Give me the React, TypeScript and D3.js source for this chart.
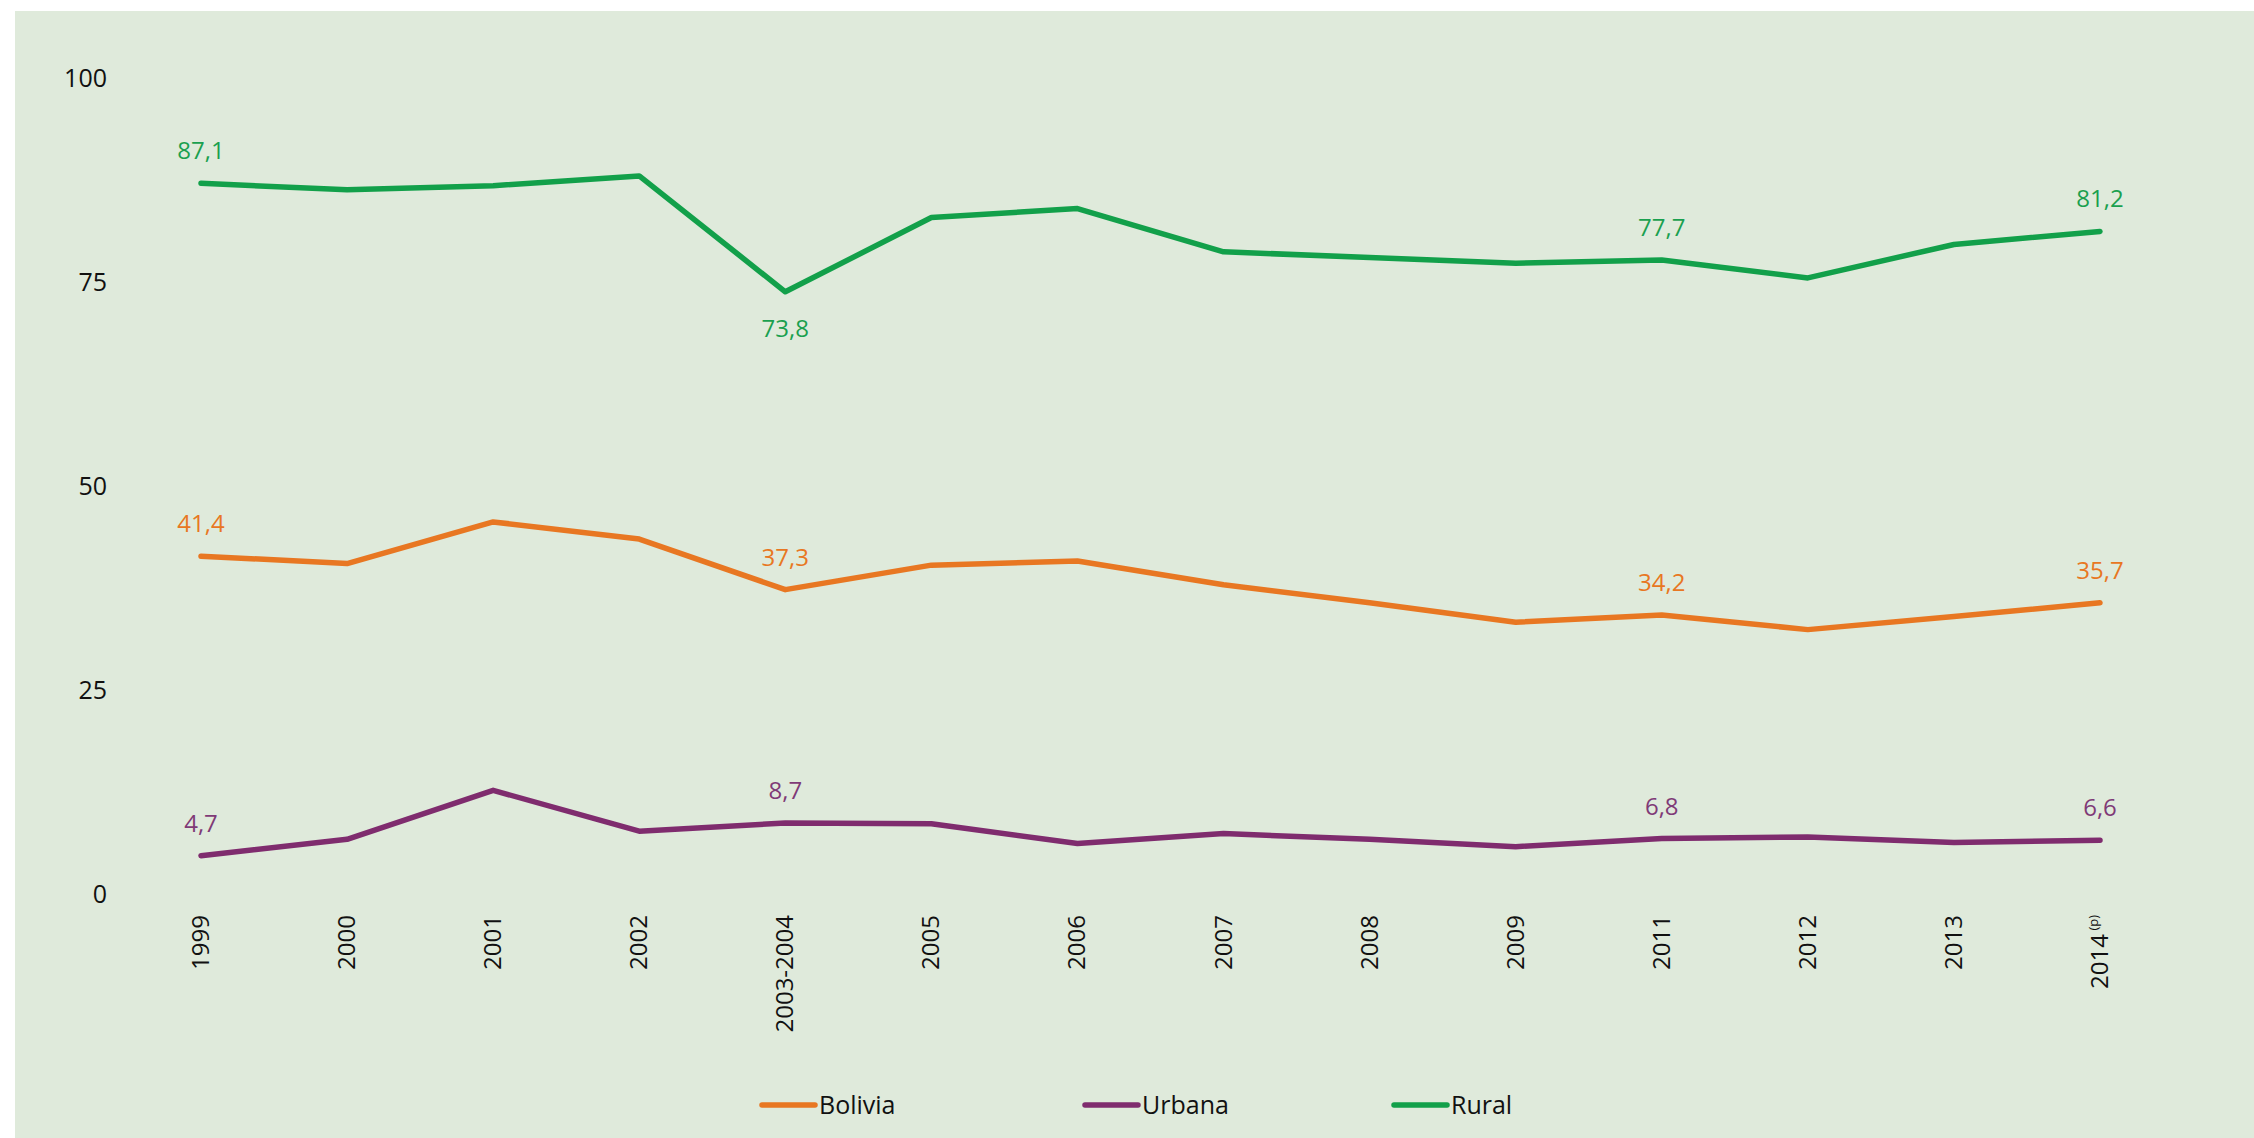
import * as d3 from "d3";

const years = ["1999", "2000", "2001", "2002", "2003-2004", "2005", "2006", "2007", "2008", "2009", "2011", "2012", "2013", "2014"];
const bolivia = [41.4, 40.5, 45.6, 43.5, 37.3, 40.3, 40.8, 37.9, 35.7, 33.3, 34.2, 32.4, 34.0, 35.7];
const urbana = [4.7, 6.7, 12.7, 7.7, 8.7, 8.6, 6.2, 7.4, 6.7, 5.8, 6.8, 7.0, 6.3, 6.6];
const rural = [87.1, 86.3, 86.8, 88.0, 73.8, 82.9, 84.0, 78.7, 78.0, 77.3, 77.7, 75.5, 79.6, 81.2];
const yTicks = [0, 25, 50, 75, 100];
// which points carry a value label, and whether it sits below the line
const labelled = ["1999", "2003-2004", "2011", "2014"];
const below = { Rural: ["2003-2004"] } as Record<string, string[]>;

const series = [
  { name: "Bolivia", values: bolivia, color: "#e87722", text: "#e87722" },
  { name: "Urbana", values: urbana, color: "#7f2c6e", text: "#7f3a77" },
  { name: "Rural", values: rural, color: "#12a04a", text: "#1aa04f" },
];

const W = 2254;
const H = 1138;
const font = "'Open Sans', sans-serif";

export default function App() {
  const x = d3.scalePoint<string>().domain(years).range([201, 2100]);
  const y = d3.scaleLinear().domain([0, 100]).range([894, 78]);
  const line = d3
    .line<number>()
    .x((_, i) => x(years[i])!)
    .y((d) => y(d));
  const fmt = (v: number) => v.toFixed(1).replace(".", ",");
  const legendX = [762, 1085, 1394];

  return (
    <svg width={W} height={H} style={{ position: "absolute", left: 0, top: 0 }} fontFamily={font}>
      <rect x={0} y={0} width={W} height={H} fill="#ffffff" />
      <rect x={15} y={11} width={W - 15} height={H - 11} fill="#dfeadb" />

      {yTicks.map((t) => (
        <text key={t} x={107} y={y(t)} dy="0.35em" textAnchor="end" fontSize={25} fill="#111">
          {t}
        </text>
      ))}

      {years.map((yr) => (
        <text
          key={yr}
          transform={`translate(${x(yr)! + 8},915) rotate(-90)`}
          textAnchor="end"
          fontSize={24}
          fill="#111"
        >
          {yr === "2014" ? (
            <>
              2014<tspan fontSize={13} dy={-10}>{" (p)"}</tspan>
            </>
          ) : (
            yr
          )}
        </text>
      ))}

      {series.map((s) => (
        <g key={s.name}>
          <path d={line(s.values)!} fill="none" stroke={s.color} strokeWidth={5.5} strokeLinecap="round" strokeLinejoin="round" />
          {years.map((yr, i) =>
            labelled.includes(yr) ? (
              <text
                key={yr}
                x={x(yr)!}
                y={y(s.values[i]) + ((below[s.name] || []).includes(yr) ? 45 : -24)}
                textAnchor="middle"
                fontSize={24}
                fill={s.text}
              >
                {fmt(s.values[i])}
              </text>
            ) : null
          )}
        </g>
      ))}

      {series.map((s, i) => (
        <g key={s.name} transform={`translate(${legendX[i]},1105)`}>
          <line x1={0} x2={53} y1={0} y2={0} stroke={s.color} strokeWidth={5.5} strokeLinecap="round" />
          <text x={57} dy="0.35em" fontSize={25} fill="#111">
            {s.name}
          </text>
        </g>
      ))}
    </svg>
  );
}
